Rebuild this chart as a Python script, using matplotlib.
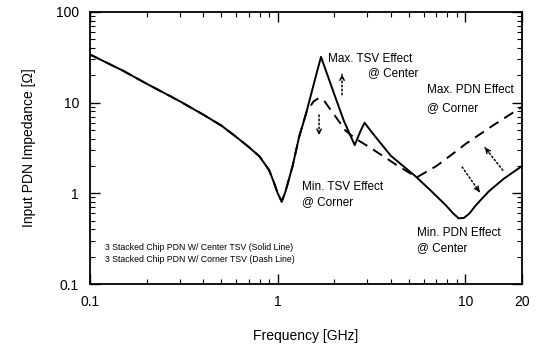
import matplotlib
matplotlib.use('Agg')
import matplotlib.pyplot as plt
from matplotlib.ticker import LogLocator, NullFormatter, FixedLocator, FixedFormatter

plt.rcParams['font.family'] = ['Liberation Sans', 'DejaVu Sans']

# solid line: 3 stacked chip PDN with center TSV
f_center = [0.1, 0.15, 0.2, 0.3, 0.4, 0.5, 0.6, 0.7, 0.8, 0.9, 0.95, 1.0, 1.05,
            1.1, 1.2, 1.3, 1.4, 1.5, 1.6, 1.7, 2.0, 2.25, 2.57, 2.75, 2.9, 3.2,
            4.0, 5.4, 6.6, 7.9, 8.6, 9.2, 9.8, 10.5, 11.3, 13.3, 16.0, 20.0]
z_center = [34, 22.5, 16.2, 10.4, 7.4, 5.6, 4.2, 3.25, 2.55, 1.8, 1.35, 1.0, 0.81,
            1.05, 2.0, 4.2, 7.0, 12, 20, 32, 12.4, 6.3, 3.4, 4.8, 6.0, 4.6,
            2.6, 1.55, 1.05, 0.73, 0.6, 0.53, 0.535, 0.6, 0.73, 1.05, 1.45, 2.0]

# dashed line: 3 stacked chip PDN with corner TSV
f_corner = [0.1, 0.15, 0.2, 0.3, 0.4, 0.5, 0.6, 0.7, 0.8, 0.9, 0.95, 1.0, 1.05,
            1.1, 1.2, 1.3, 1.42, 1.55, 1.65, 1.75, 1.9, 2.3, 2.6, 3.1, 4.3, 5.5,
            7.0, 8.9, 10.0, 14.0, 20.0]
z_corner = [34, 22.5, 16.2, 10.4, 7.4, 5.6, 4.2, 3.25, 2.55, 1.8, 1.35, 1.0, 0.81,
            1.05, 2.0, 4.2, 7.8, 10.3, 11.2, 10.8, 8.5, 4.9, 4.0, 3.2, 2.05, 1.5,
            2.0, 2.9, 3.5, 5.6, 9.0]

x_ticks = [0.1, 1, 10, 20]
x_ticklabels = ['0.1', '1', '10', '20']
y_ticks = [0.1, 1, 10, 100]
y_ticklabels = ['0.1', '1', '10', '100']

fig = plt.figure(figsize=(5.41, 3.45), dpi=100)
ax = fig.add_axes([90/541, 1-284/345, 432/541, 272/345])

ax.plot(f_center, z_center, color='k', lw=1.4)
ax.plot(f_corner, z_corner, color='k', lw=1.4, dashes=(5.5, 3.5))

ax.set_xscale('log')
ax.set_yscale('log')
ax.set_xlim(0.1, 20)
ax.set_ylim(0.1, 100)

ax.xaxis.set_major_locator(FixedLocator(x_ticks))
ax.xaxis.set_major_formatter(FixedFormatter(x_ticklabels))
ax.xaxis.set_minor_locator(LogLocator(base=10, subs=range(2, 10)))
ax.xaxis.set_minor_formatter(NullFormatter())
ax.yaxis.set_major_locator(FixedLocator(y_ticks))
ax.yaxis.set_major_formatter(FixedFormatter(y_ticklabels))
ax.yaxis.set_minor_locator(LogLocator(base=10, subs=range(2, 10)))
ax.yaxis.set_minor_formatter(NullFormatter())

ax.tick_params(which='both', direction='in', top=True, right=True, labelsize=10)
ax.tick_params(which='major', length=7, width=1, pad=8)
ax.tick_params(which='minor', length=3.5, width=0.8)
for s in ax.spines.values():
    s.set_linewidth(1.3)

ax.set_xlabel('Frequency [GHz]', fontsize=10, labelpad=14)
ax.set_ylabel('Input PDN Impedance [\u03a9]', fontsize=10, labelpad=14)

fs = 8.5
ax.text(1.85, 30.5, 'Max. TSV Effect', fontsize=fs, va='center')
ax.text(3.03, 21.0, '@ Center', fontsize=fs, va='center')
ax.text(6.25, 13.8, 'Max. PDN Effect', fontsize=fs, va='center')
ax.text(6.25, 8.7, '@ Corner', fontsize=fs, va='center')
ax.text(1.35, 1.17, 'Min. TSV Effect', fontsize=fs, va='center')
ax.text(1.35, 0.80, '@ Corner', fontsize=fs, va='center')
ax.text(5.52, 0.365, 'Min. PDN Effect', fontsize=fs, va='center')
ax.text(5.52, 0.25, '@ Center', fontsize=fs, va='center')
ax.text(0.12, 0.25, '3 Stacked Chip PDN W/ Center TSV (Solid Line)', fontsize=6.3, va='center')
ax.text(0.12, 0.184, '3 Stacked Chip PDN W/ Corner TSV (Dash Line)', fontsize=6.3, va='center')

# dotted arrows: (tail, head)
arrows = [((2.2, 12.2), (2.2, 20.5)),
          ((1.66, 7.3), (1.66, 4.4)),
          ((9.6, 1.95), (11.9, 1.03)),
          ((15.8, 1.8), (12.7, 3.2))]
for tail, head in arrows:
    ax.annotate('', xy=head, xytext=tail,
                arrowprops=dict(arrowstyle='-', linestyle=':', lw=1.1, color='k',
                                shrinkA=0, shrinkB=0))
    # short solid piece at the tip carries the head
    near = (head[0] * (tail[0] / head[0]) ** 0.2, head[1] * (tail[1] / head[1]) ** 0.2)
    ax.annotate('', xy=head, xytext=near,
                arrowprops=dict(arrowstyle='->', lw=1.0, color='k', mutation_scale=8,
                                shrinkA=0, shrinkB=0))

fig.savefig('out.png', dpi=100)
